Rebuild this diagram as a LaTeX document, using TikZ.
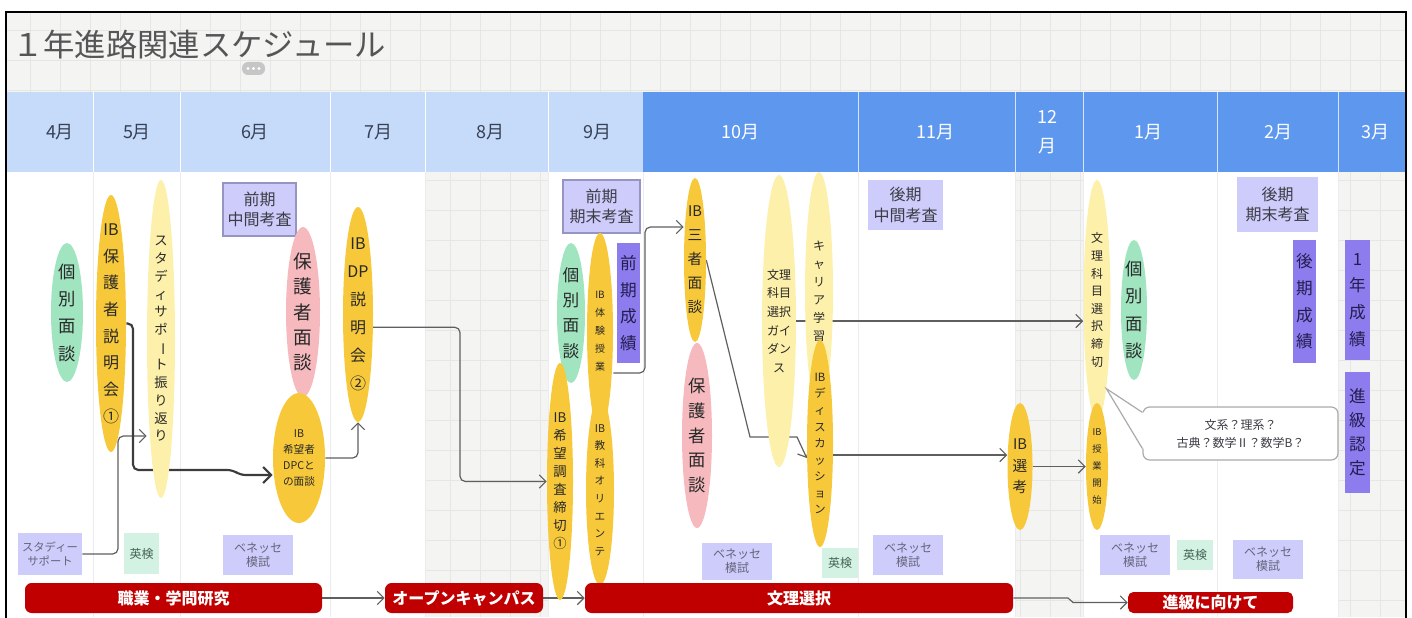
\documentclass[tikz,border=0pt]{standalone}
\usepackage{fontspec}
\setmainfont{Noto Sans CJK JP}
\usetikzlibrary{shapes.geometric,arrows.meta,calc}
\pgfdeclarelayer{grid}
\pgfdeclarelayer{lines}
\pgfsetlayers{grid,lines,main}

\definecolor{hdrlight}{RGB}{198,218,250}
\definecolor{hdrdark}{RGB}{94,151,238}
\definecolor{hdrtext}{RGB}{55,65,85}
\definecolor{ibgold}{RGB}{247,201,58}
\definecolor{paleyel}{RGB}{253,240,170}
\definecolor{mint}{RGB}{160,228,192}
\definecolor{pinkish}{RGB}{246,186,190}
\definecolor{lavender}{RGB}{206,204,250}
\definecolor{lavline}{RGB}{150,148,195}
\definecolor{violet}{RGB}{140,124,238}
\definecolor{eikenbg}{RGB}{212,242,228}
\definecolor{barred}{RGB}{192,0,0}
\definecolor{linegray}{RGB}{95,95,95}
\definecolor{darkline}{RGB}{60,60,60}
\definecolor{gridbg}{RGB}{244,244,242}
\definecolor{gridln}{RGB}{230,230,228}
\definecolor{sepline}{RGB}{236,236,240}
\definecolor{evtext}{RGB}{40,40,40}
\definecolor{boxtext}{RGB}{60,60,70}
\definecolor{mositext}{RGB}{100,100,125}
\definecolor{eikentext}{RGB}{70,100,85}
\definecolor{seitext}{RGB}{35,30,80}
\definecolor{titletext}{RGB}{85,85,85}
\definecolor{memoline}{RGB}{170,170,170}

\newcommand\fz[2]{\fontsize{#1}{#2}\selectfont}
\newcommand\vbar{\rotatebox[origin=c]{-90}{ー}}

\begin{document}
\begin{tikzpicture}[x=0.75pt,y=-0.75pt,
  sz/.style 2 args={minimum width=#1*0.75pt,minimum height=#2*0.75pt},
  evt/.style={ellipse,inner xsep=0pt,inner ysep=-60pt,align=center,text=evtext},
  ibev/.style={evt,fill=ibgold},
  paleev/.style={evt,fill=paleyel},
  kobev/.style={evt,fill=mint,font=\fz{13}{20.5}},
  pinkev/.style={evt,fill=pinkish},
  tbox/.style={rectangle,inner sep=0pt,align=center},
  kosabox/.style={tbox,fill=lavender,text=boxtext,font=\fz{12}{15.5}},
  mosibox/.style={tbox,fill=lavender,text=mositext,font=\fz{9}{10.5}},
  eikenbox/.style={tbox,fill=eikenbg,text=eikentext,font=\fz{9}{11}},
  seibox/.style={tbox,fill=violet,text=seitext,font=\fz{12.5}{20}},
  redbar/.style={tbox,fill=barred,text=white,rounded corners=5pt,font=\bfseries\fz{12}{14}},
  month/.style={font=\fz{13.5}{16},text=hdrtext},
  conn/.style={draw=linegray,line width=0.9pt,rounded corners=4pt,-{Straight Barb[length=5pt,width=10pt]}},
  heavy/.style={draw=darkline,line width=1.6pt,rounded corners=4pt,-{Straight Barb[length=6pt,width=12pt]}}]

\useasboundingbox (0,0) rectangle (1412,617);

%Backgrounds
\begin{pgfonlayer}{grid}
\fill[gridbg] (6,12) rectangle (1406,92);
\draw[gridln,step=22.5pt] (6,92) grid (1406,12);
\fill[hdrlight] (6,92) rectangle (643,172);
\fill[hdrdark] (643,92) rectangle (1406,172);
\foreach \x in {93,180,330,425,548}
  \draw[white,line width=0.75pt] (\x,92) -- (\x,172);
\foreach \x in {858,1015,1083,1217,1338}
  \draw[white!75!hdrdark,line width=0.75pt] (\x,92) -- (\x,172);
\foreach \a/\b in {425/548,1015/1083,1338/1406}{
  \fill[gridbg] (\a,172) rectangle (\b,617);
  \draw[gridln,step=22.5pt] (\a,617) grid (\b,172);
}
\foreach \x in {93,180,330,425,548,643,858,1015,1083,1217,1338}
  \draw[sepline,line width=0.75pt] (\x,172) -- (\x,617);
\end{pgfonlayer}

%Title
\node[anchor=west,font=\fz{23.5}{28},text=titletext,inner sep=0pt] (title) at (12,45) {１年進路関連スケジュール};
\fill[gray!45,rounded corners=4.5pt] (242,62) rectangle (265,75);
\foreach \x in {248,253.5,259} \fill[white] (\x,68.5) circle (1.2pt);

%Months
\node[month] (m4) at (60,132) {4月};
\node[month] (m5) at (137,132) {5月};
\node[month] (m6) at (255,132) {6月};
\node[month] (m7) at (378,132) {7月};
\node[month] (m8) at (490,132) {8月};
\node[month] (m9) at (597,132) {9月};
\node[month,text=white] (m10) at (740,132) {10月};
\node[month,text=white] (m11) at (935,132) {11月};
\node[month,text=white,align=center,font=\fz{13.5}{22}] (m12) at (1047,132) {12\\月};
\node[month,text=white] (m1) at (1148,132) {1月};
\node[month,text=white] (m2) at (1278,132) {2月};
\node[month,text=white] (m3) at (1375,132) {3月};

%April - May
\node[kobev,sz={32}{139}] (kobetsuA) at (67,312.5) {個\\別\\面\\談};
\node[mosibox,sz={64}{42},font=\fz{8.5}{11}] (study) at (50,554) {スタディー\\サポート};
\node[ibev,sz={30}{257},font=\fz{12}{20}] (hogoshaA) at (111,323.5) {IB\\保\\護\\者\\説\\明\\会\\①};
\node[paleev,sz={28}{318},font=\fz{10}{13.3}] (furikaeri) at (161,339) {ス\\タ\\デ\\ィ\\サ\\ポ\\\vbar\\ト\\振\\り\\返\\り};
\node[eikenbox,sz={35}{41}] (eikenA) at (141.5,553.5) {英検};

%June - July
\node[kosabox,draw=lavline,line width=0.9pt,sz={73}{53}] (chukanA) at (259.5,209.5) {前期\\中間考査};
\node[pinkev,sz={34}{170},font=\fz{14}{19}] (hogoshaB) at (303,312) {保\\護\\者\\面\\談};
\node[ibev,sz={52}{130},font=\fz{8}{12}] (dpc) at (299,458) {IB\\希望者\\DPCと\\の面談};
\node[mosibox,sz={70}{40}] (benesseA) at (258,555) {ベネッセ\\模試};
\node[ibev,sz={30}{215},font=\fz{12}{21}] (dpB) at (358,314.5) {IB\\DP\\説\\明\\会\\②};

%September
\node[kosabox,draw=lavline,line width=0.9pt,sz={77}{53}] (kimatsuA) at (601.5,206.5) {前期\\期末考査};
\node[kobev,sz={28}{140},font=\fz{12.5}{19}] (kobetsuB) at (571,313) {個\\別\\面\\談};
\node[ibev,sz={26}{197},font=\fz{7.5}{13.5}] (taiken) at (600,331.5) {IB\\体\\験\\授\\業};
\node[ibev,sz={28}{190},font=\fz{8}{13.2}] (orient) at (600,490) {IB\\教\\科\\オ\\リ\\エ\\ン\\テ};
\node[ibev,sz={26}{237},font=\fz{10}{13.5}] (kibo) at (560,481.5) {IB\\希\\望\\調\\査\\締\\切\\①};
\node[seibox,sz={23}{120}] (seisekiA) at (628.5,303) {前\\期\\成\\績};

%October - November
\node[ibev,sz={22}{164},font=\fz{11}{18}] (sansha) at (695,260) {IB\\三\\者\\面\\談};
\node[pinkev,sz={30}{185},font=\fz{13}{18.5}] (hogoshaC) at (697,435.5) {保\\護\\者\\面\\談};
\node[paleev,sz={32}{292},font=\fz{9}{14}] (guidance) at (779,321) {文理\\科目\\選択\\ガイ\\ダン\\ス};
\node[paleev,sz={28}{238},font=\fz{9}{13.5}] (career) at (819,291) {キ\\ャ\\リ\\ア\\学\\習};
\node[ibev,sz={26}{207},font=\fz{8.5}{12.4}] (disc) at (820,443.5) {IB\\デ\\ィ\\ス\\カ\\ッ\\シ\\ョ\\ン};
\node[mosibox,sz={70}{37}] (benesseB) at (737,561.5) {ベネッセ\\模試};
\node[eikenbox,sz={36}{30}] (eikenB) at (840,563) {英検};
\node[kosabox,sz={75}{50}] (chukanB) at (905.5,205) {後期\\中間考査};
\node[mosibox,sz={70}{40}] (benesseC) at (908,555) {ベネッセ\\模試};

%December - January
\node[ibev,sz={25}{127},font=\fz{11}{16}] (senko) at (1020,466.5) {IB\\選\\考};
\node[paleev,sz={27}{240},font=\fz{9}{13.2}] (kimoku) at (1097,300) {文\\理\\科\\目\\選\\択\\締\\切};
\node[ibev,sz={22}{127},font=\fz{7}{12.8}] (jugyo) at (1097,466.5) {IB\\授\\業\\開\\始};
\node[kobev,sz={26}{140}] (kobetsuC) at (1134,310) {個\\別\\面\\談};
\node[mosibox,sz={70}{40}] (benesseD) at (1135,555) {ベネッセ\\模試};
\node[eikenbox,sz={36}{30}] (eikenC) at (1195,555) {英検};

%February - March
\node[kosabox,sz={81}{55}] (kimatsuB) at (1277.5,204.5) {後期\\期末考査};
\node[seibox,sz={23}{123}] (seisekiB) at (1304.5,301.5) {後\\期\\成\\績};
\node[mosibox,sz={70}{39}] (benesseE) at (1268,559.5) {ベネッセ\\模試};
\node[seibox,sz={25}{120}] (nenseiseki) at (1357.5,300) {1\\年\\成\\績};
\node[seibox,sz={25}{121},font=\fz{12.5}{18}] (nintei) at (1357.5,432.5) {進\\級\\認\\定};

%Callout
\node[tbox,draw=memoline,line width=0.9pt,fill=white,rounded corners=5pt,sz={195}{53},font=\fz{9}{13.5},text=boxtext] (memo) at (1240.5,433.5) {文系？理系？\\古典？数学Ⅱ？数学B？};
\coordinate (tip) at (kimoku.-84);
\coordinate (ma) at ($(memo.north west)+(0,6)$);
\coordinate (mb) at ($(memo.south west)+(0,-12)$);
\fill[white] (ma) -- (tip) -- (mb) -- ($(mb)+(2.5,0)$) -- ($(ma)+(2.5,0)$) -- cycle;
\draw[memoline,line width=0.9pt] (ma) -- (tip) -- (mb);

%Bars
\node[redbar,sz={297}{30}] (shokugyo) at (173.5,598) {職業・学問研究};
\node[redbar,sz={158}{30}] (opencamp) at (464,598) {オープンキャンパス};
\node[redbar,sz={428}{30}] (bunri) at (799,598) {文理選択};
\node[redbar,sz={165}{21},rounded corners=4pt] (shinkyu) at (1210.5,602.5) {進級に向けて};

%Connectors
\begin{pgfonlayer}{lines}
\draw[conn] (study.east) -- (118,554) -- (118,436) -- (furikaeri.west |- 0,436);
\draw[heavy] (hogoshaA.east) -- (133,323.5) -- (133,470) -- (233,470) -- (240,475) -- (dpc.west |- 0,475);
\draw[conn] (dpc.east) -| (dpB.south);
\draw[conn] (dpB.-40) -| (460,481.5) -- (kibo.west);
\draw[conn] (taiken.east |- 0,373) -| (645,300) |- (sansha.west |- 0,227);
\draw[conn,sharp corners] (sansha.east) -- (750,437) -- (797,437) -- (disc.west |- 0,458);
\draw[conn] (guidance.east) -- (kimoku.west |- 0,321);
\draw[conn] (disc.east |- 0,455) -- (senko.west |- 0,455);
\draw[conn] (senko.east) -- (jugyo.west);
\draw[conn] (shokugyo.east) -- (opencamp.west);
\draw[conn] (opencamp.east) -- (bunri.west);
\draw[conn,sharp corners] (bunri.east) -- (1068,598) -- (1073,602.5) -- (shinkyu.west);
\end{pgfonlayer}

%Frame
\draw[black,line width=1.5pt] (6,12) rectangle (1406,625);
\end{tikzpicture}
\end{document}
